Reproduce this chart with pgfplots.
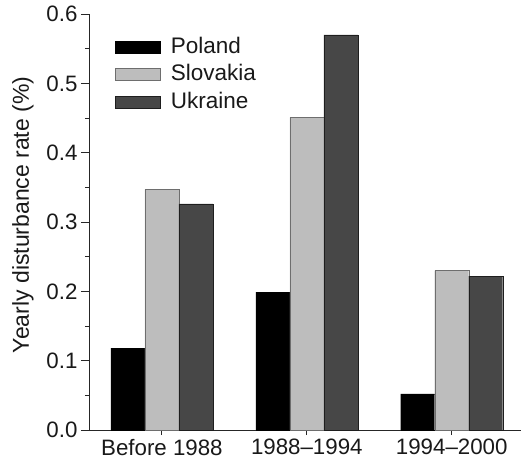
\documentclass[border=0pt]{standalone}
\usepackage{fontspec}
\setmainfont{Liberation Sans}
\usepackage{pgfplots}
\pgfplotsset{compat=1.18}
\definecolor{slov}{HTML}{BDBDBD}
\definecolor{slovedge}{HTML}{6E6E6E}
\definecolor{ukr}{HTML}{474747}
\definecolor{ukredge}{HTML}{1E1E1E}
\begin{document}
\begin{tikzpicture}
\useasboundingbox (-89bp,-29bp) rectangle (432bp,430bp);
\begin{axis}[
  at={(0,0)}, anchor=south west,
  scale only axis, width=432bp, height=416bp,
  ymin=0, ymax=0.6, xmin=-0.503, xmax=2.478,
  axis x line*=bottom, axis y line*=left,
  axis line style={line width=1pt, black!85},
  every tick/.style={line width=0.9pt, black!85},
  tick align=outside,
  ytick={0,0.1,0.2,0.3,0.4,0.5,0.6},
  minor ytick={0.05,0.15,0.25,0.35,0.45,0.55},
  major tick length=8bp, minor tick length=4bp,
  xtick={0,1,2},
  xticklabels={Before 1988, 1988--1994, 1994--2000},
  xtick style={/pgfplots/major tick length=5bp},
  yticklabel style={/pgf/number format/.cd, fixed, fixed zerofill, precision=1, assume math mode=true},
  tick label style={font=\fontsize{22.3bp}{26bp}\selectfont, black!90},
  xticklabel style={inner sep=1bp},
  ylabel={Yearly disturbance rate (\%)},
  ylabel style={font=\fontsize{23bp}{27bp}\selectfont, black!90, at={(axis description cs:-0.153,0.517)}, anchor=center},
  ybar=0pt, bar width=34bp,
  legend style={draw=none, fill=none, inner sep=0pt, at={(axis cs:-0.324,0.5664)}, anchor=north west,
    font=\fontsize{22.5bp}{26bp}\selectfont, text=black!90, row sep=7.3bp,
    nodes={inner sep=0pt, text height=16bp, text depth=4bp},
    /tikz/every odd column/.append style={column sep=10bp},
    legend cell align=left},
  legend image code/.code={\draw[#1, line width=0.8pt] (0bp,-6bp) rectangle (45bp,6bp);},
]
\addplot[fill=black, draw=black] coordinates {(0,0.118) (1,0.199) (2,0.052)};
\addplot[fill=slov, draw=slovedge] coordinates {(0,0.347) (1,0.451) (2,0.230)};
\addplot[fill=ukr, draw=ukredge] coordinates {(0,0.326) (1,0.570) (2,0.222)};
\legend{Poland, Slovakia, Ukraine}
\end{axis}
\end{tikzpicture}
\end{document}
